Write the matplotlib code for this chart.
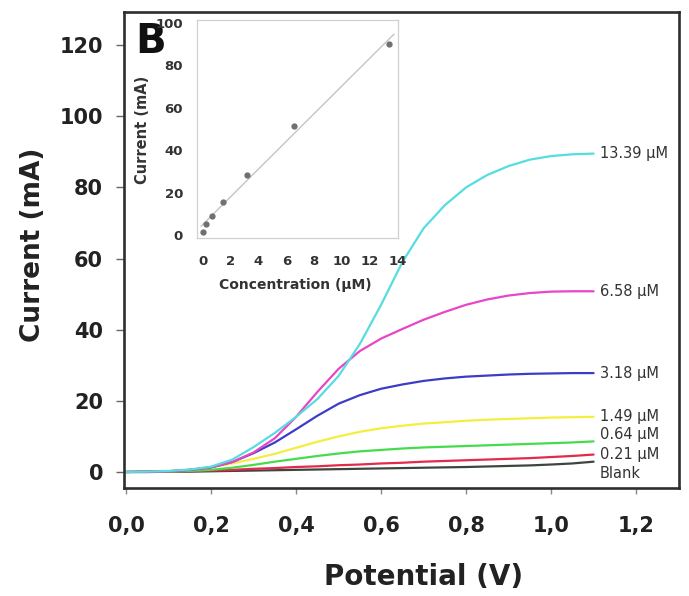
import matplotlib
matplotlib.use("Agg")
import matplotlib.pyplot as plt
import numpy as np

plt.rcParams['font.family'] = ['DejaVu Sans']

# ---------------- data ----------------
potential = [0.00, 0.05, 0.10, 0.15, 0.20, 0.25, 0.30, 0.35, 0.40, 0.45, 0.50, 0.55,
             0.60, 0.65, 0.70, 0.75, 0.80, 0.85, 0.90, 0.95, 1.00, 1.05, 1.10]

cur_blank = [0, 0, 0.05, 0.1, 0.2, 0.3, 0.4, 0.5, 0.6, 0.7, 0.8, 0.9,
             1.0, 1.1, 1.2, 1.3, 1.4, 1.55, 1.7, 1.85, 2.1, 2.4, 2.9]
cur_021 = [0, 0, 0.1, 0.2, 0.4, 0.6, 0.9, 1.1, 1.4, 1.6, 1.9, 2.1,
           2.4, 2.6, 2.9, 3.1, 3.3, 3.5, 3.7, 3.9, 4.2, 4.5, 4.9]
cur_064 = [0, 0.05, 0.1, 0.3, 0.6, 1.2, 2.0, 2.9, 3.7, 4.5, 5.2, 5.8,
           6.2, 6.6, 6.9, 7.1, 7.3, 7.5, 7.7, 7.9, 8.1, 8.3, 8.6]
cur_149 = [0, 0.1, 0.2, 0.6, 1.3, 2.4, 3.7, 5.1, 6.8, 8.5, 10.0, 11.3,
           12.3, 13.0, 13.6, 14.0, 14.4, 14.7, 14.9, 15.1, 15.3, 15.4, 15.5]
cur_318 = [0, 0.1, 0.2, 0.6, 1.3, 2.8, 5.3, 8.3, 12.0, 15.8, 19.2, 21.6,
           23.4, 24.6, 25.6, 26.3, 26.8, 27.1, 27.4, 27.6, 27.7, 27.8, 27.8]
cur_658 = [0, 0.1, 0.2, 0.6, 1.3, 2.8, 5.5, 9.5, 15.5, 22.5, 29.0, 34.0,
           37.5, 40.2, 42.8, 45.0, 47.0, 48.5, 49.6, 50.3, 50.7, 50.8, 50.8]
cur_1339 = [0, 0.1, 0.3, 0.7, 1.5, 3.5, 7.0, 11.0, 15.5, 20.5, 27.0, 36.0,
            47.0, 59.0, 68.5, 75.0, 80.0, 83.5, 86.0, 87.8, 88.8, 89.3, 89.5]

series = [cur_blank, cur_021, cur_064, cur_149, cur_318, cur_658, cur_1339]
series_labels = ["Blank", "0.21 \u00b5M", "0.64 \u00b5M", "1.49 \u00b5M",
                 "3.18 \u00b5M", "6.58 \u00b5M", "13.39 \u00b5M"]
series_colors = ["#3d463d", "#e22a4c", "#45dc4c", "#f3ef3c",
                 "#3c3cc6", "#e845c8", "#55dde0"]
label_y = [-0.3, 4.8, 10.4, 15.5, 27.8, 50.6, 89.4]

xticks = [0.0, 0.2, 0.4, 0.6, 0.8, 1.0, 1.2]
xtick_labels = ["0,0", "0,2", "0,4", "0,6", "0,8", "1,0", "1,2"]
yticks = [0, 20, 40, 60, 80, 100, 120]

# inset (calibration)
conc = [0, 0.21, 0.64, 1.49, 3.18, 6.58, 13.39]
inset_current = [1.3, 5.2, 9.0, 15.7, 28.3, 51.5, 90.2]
inset_xticks = [0, 2, 4, 6, 8, 10, 12, 14]
inset_yticks = [0, 20, 40, 60, 80, 100]

# ---------------- figure ----------------
W, H = 689, 596
fig = plt.figure(figsize=(W / 100, H / 100), dpi=100)
ax = fig.add_axes([124 / W, 108 / H, 555 / W, 476 / H])

for ys, col in zip(series, series_colors):
    ax.plot(potential, ys, color=col, lw=1.6, solid_capstyle='round')

for lab, yl in zip(series_labels, label_y):
    ax.text(1.115, yl, lab, fontsize=10.5, color="#333333", va='center', ha='left')

ax.set_xlim(-0.005, 1.301)
ax.set_ylim(-4.5, 129.3)
ax.set_xticks(xticks)
ax.set_xticklabels(xtick_labels)
ax.set_yticks(yticks)

for s in ax.spines.values():
    s.set_color("#2e2e2e")
    s.set_linewidth(1.9)

ax.tick_params(axis='y', direction='out', length=6, width=1, color="#666666",
               labelsize=15, pad=9, labelcolor="#222222")
ax.tick_params(axis='x', direction='out', length=4, width=1, color="#888888",
               labelsize=15, pad=16, labelcolor="#222222")
for t in ax.get_xticklabels() + ax.get_yticklabels():
    t.set_fontweight('bold')

ax.set_xlabel("Potential (V)", fontsize=20, fontweight='bold', color="#222222",
              va='center')
ax.set_ylabel("Current (mA)", fontsize=19, fontweight='bold', color="#222222",
              va='center')
ax.xaxis.set_label_coords(0.54, -0.187)
ax.yaxis.set_label_coords(-0.164, 0.51)

ax.text(0.0198, 0.914, "B", transform=ax.transAxes, fontsize=29,
        fontweight='bold', color="#111111", va='baseline', ha='left')

# ---------------- inset ----------------
axi = fig.add_axes([197 / W, (H - 238) / H, 201 / W, 218 / H])
coef = np.polyfit(conc, inset_current, 1)
fx = np.array([min(conc) - 0.1, 13.7])
axi.plot(fx, np.polyval(coef, fx), color="#c4c4c4", lw=1.0)
axi.plot(conc, inset_current, 'o', ms=3.5, color="#707070", mec="#707070")

axi.set_xlim(-0.4, 14.0)
axi.set_ylim(-1.4, 101.4)
axi.set_xticks(inset_xticks)
axi.set_yticks(inset_yticks)
for s in axi.spines.values():
    s.set_color("#d0d0d0")
    s.set_linewidth(0.9)
axi.tick_params(axis='both', length=0, labelsize=9.5, labelcolor="#333333")
axi.tick_params(axis='y', pad=10)
axi.tick_params(axis='x', pad=12)
for t in axi.get_xticklabels() + axi.get_yticklabels():
    t.set_fontweight('bold')
axi.set_xlabel("Concentration (\u00b5M)", fontsize=10, fontweight='bold', color="#333333",
               va='center')
axi.set_ylabel("Current (mA)", fontsize=10.5, fontweight='bold', color="#333333",
               va='center')
axi.xaxis.set_label_coords(0.49, -0.216)
axi.yaxis.set_label_coords(-0.269, 0.495)

fig.savefig("out.png", dpi=100)
